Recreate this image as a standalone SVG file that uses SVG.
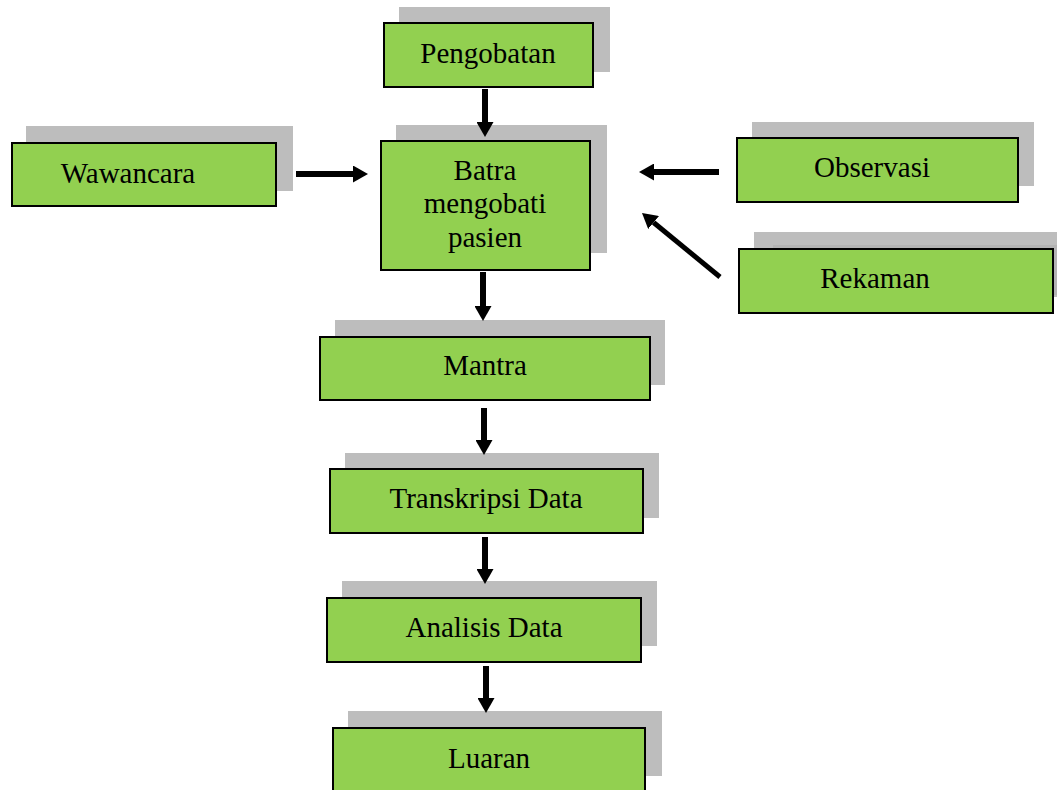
<svg xmlns="http://www.w3.org/2000/svg" width="1057" height="790" viewBox="0 0 1057 790">
<defs>
<style>
.sh{fill:#bdbdbd}
.bx{fill:#92d050;stroke:#000;stroke-width:2}
.t{font-family:"Liberation Serif","Times New Roman",serif;font-size:29px;fill:#000;text-anchor:middle}
.c{stroke:#000;stroke-width:6;fill:none}
</style>
<marker id="ah" viewBox="0 0 15 17" markerWidth="15" markerHeight="17" markerUnits="userSpaceOnUse" refX="0" refY="8.5" orient="auto">
<path d="M0,0 L15,8.5 L0,17 Z" fill="#000"/>
</marker>
</defs>
<rect width="1057" height="790" fill="#fff"/>
<g id="pengobatan">
<rect class="sh" x="399" y="7" width="211" height="65"/>
<rect class="bx" x="384" y="23" width="209" height="64"/>
<text class="t" x="488" y="63">Pengobatan</text>
</g>
<g id="wawancara">
<rect class="sh" x="26" y="126" width="267" height="65"/>
<rect class="bx" x="12" y="143" width="264" height="63"/>
<text class="t" x="128" y="183">Wawancara</text>
</g>
<g id="batra">
<rect class="sh" x="396" y="125" width="211" height="128"/>
<rect class="bx" x="381" y="141" width="209" height="129"/>
<text class="t" x="485" y="180">Batra</text>
<text class="t" x="485" y="213">mengobati</text>
<text class="t" x="485" y="247">pasien</text>
</g>
<g id="observasi">
<rect class="sh" x="752" y="122" width="282" height="64"/>
<rect class="bx" x="737" y="138" width="281" height="64"/>
<text class="t" x="872" y="177">Observasi</text>
</g>
<g id="rekaman">
<rect class="sh" x="754" y="232" width="303" height="65"/>
<rect x="773" y="245" width="284" height="50" fill="#b3b3b3"/>
<rect class="bx" x="739" y="249" width="314" height="64"/>
<text class="t" x="875" y="288">Rekaman</text>
</g>
<g id="mantra">
<rect class="sh" x="335" y="320" width="330" height="65"/>
<rect class="bx" x="320" y="337" width="330" height="63"/>
<text class="t" x="485" y="375">Mantra</text>
</g>
<g id="transkripsi">
<rect class="sh" x="345" y="453" width="314" height="65"/>
<rect class="bx" x="330" y="469" width="313" height="64"/>
<text class="t" x="486" y="508">Transkripsi Data</text>
</g>
<g id="analisis">
<rect class="sh" x="342" y="581" width="315" height="65"/>
<rect class="bx" x="327" y="598" width="314" height="64"/>
<text class="t" x="484" y="637">Analisis Data</text>
</g>
<g id="luaran">
<rect class="sh" x="348" y="711" width="314" height="65"/>
<rect class="bx" x="333" y="728" width="312" height="70"/>
<text class="t" x="489" y="768">Luaran</text>
</g>
<g id="connectors">
<line class="c" x1="485" y1="89" x2="485" y2="122" marker-end="url(#ah)"/>
<line class="c" x1="296" y1="174" x2="353" y2="174" marker-end="url(#ah)"/>
<line class="c" x1="719" y1="172" x2="654" y2="172" marker-end="url(#ah)"/>
<line class="c" x1="720" y1="277" x2="653.6" y2="222.5" marker-end="url(#ah)" style="stroke-width:5"/>
<line class="c" x1="483" y1="272" x2="483" y2="306" marker-end="url(#ah)"/>
<line class="c" x1="484" y1="408" x2="484" y2="440" marker-end="url(#ah)"/>
<line class="c" x1="485" y1="537" x2="485" y2="569" marker-end="url(#ah)"/>
<line class="c" x1="486" y1="666" x2="486" y2="698" marker-end="url(#ah)"/>
</g>
</svg>
